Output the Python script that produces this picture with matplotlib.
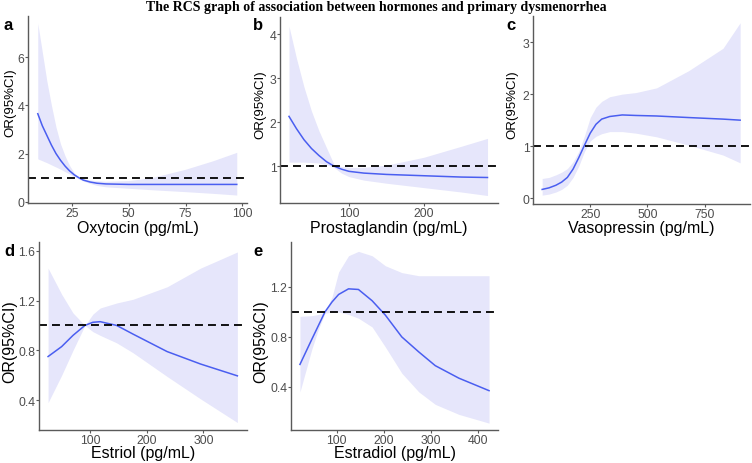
import matplotlib
matplotlib.use("Agg")
import matplotlib.pyplot as plt

plt.rcParams["font.family"] = ["Liberation Sans", "DejaVu Sans"]

TITLE = "The RCS graph of association between hormones and primary dysmenorrhea"

# a: oxytocin
oxy_x = [10, 12, 14, 16, 18, 20, 22, 24, 26, 28, 30, 33, 36, 40, 50, 60, 75, 87, 97.5]
oxy_or = [3.65, 3.15, 2.75, 2.35, 2.0, 1.72, 1.48, 1.28, 1.12, 1.0, 0.9, 0.82, 0.77, 0.74,
          0.72, 0.72, 0.72, 0.72, 0.72]
oxy_hi = [7.4, 6.2, 5.0, 4.0, 3.1, 2.4, 1.9, 1.5, 1.2, 1.03, 0.95, 0.9, 0.87, 0.85,
          0.88, 1.0, 1.35, 1.7, 2.05]
oxy_lo = [1.78, 1.7, 1.62, 1.53, 1.44, 1.35, 1.25, 1.15, 1.04, 0.95, 0.86, 0.76, 0.68, 0.62,
          0.56, 0.5, 0.42, 0.35, 0.28]

# b: prostaglandin
pg_x = [20, 30, 40, 50, 60, 70, 80, 90, 100, 120, 150, 200, 250, 285]
pg_or = [2.13, 1.85, 1.6, 1.4, 1.24, 1.1, 1.0, 0.93, 0.88, 0.84, 0.81, 0.78, 0.75, 0.74]
pg_hi = [4.18, 3.45, 2.8, 2.25, 1.8, 1.42, 1.04, 0.99, 0.97, 0.97, 1.02, 1.2, 1.45, 1.63]
pg_lo = [1.09, 1.09, 1.09, 1.08, 1.07, 1.03, 0.97, 0.84, 0.76, 0.68, 0.61, 0.51, 0.41, 0.33]

# c: vasopressin
avp_x = [40, 70, 100, 125, 150, 175, 200, 225, 250, 275, 300, 335, 390, 450, 540, 680, 830, 905]
avp_or = [0.17, 0.2, 0.25, 0.31, 0.40, 0.56, 0.78, 1.02, 1.25, 1.42, 1.52, 1.57, 1.6, 1.59,
          1.58, 1.55, 1.52, 1.5]
avp_hi = [0.38, 0.4, 0.45, 0.5, 0.57, 0.7, 0.9, 1.2, 1.55, 1.75, 1.86, 1.95, 2.0, 2.03,
          2.12, 2.45, 2.88, 3.37]
avp_lo = [0.06, 0.08, 0.12, 0.17, 0.25, 0.4, 0.62, 0.9, 1.1, 1.19, 1.24, 1.28, 1.28, 1.25,
          1.18, 1.02, 0.83, 0.68]

# d: estriol
e3_x = [26, 50, 70, 91, 105, 118, 147, 176, 236, 295, 360]
e3_or = [0.75, 0.83, 0.92, 1.0, 1.025, 1.03, 1.0, 0.93, 0.79, 0.69, 0.595]
e3_hi = [1.46, 1.25, 1.1, 1.0, 1.09, 1.14, 1.18, 1.21, 1.31, 1.46, 1.59]
e3_lo = [0.38, 0.6, 0.8, 1.0, 0.95, 0.92, 0.86, 0.78, 0.59, 0.41, 0.22]

# e: estradiol
e2_x = [22, 47, 61, 75, 90, 104, 125, 146, 175, 203, 238, 274, 309, 359, 423]
e2_or = [0.58, 0.78, 0.89, 1.0, 1.08, 1.14, 1.185, 1.18, 1.09, 0.975, 0.8, 0.68, 0.57, 0.47, 0.37]
e2_hi = [0.965, 0.97, 0.98, 1.0, 1.12, 1.32, 1.45, 1.485, 1.45, 1.37, 1.315, 1.29, 1.29, 1.29, 1.29]
e2_lo = [0.36, 0.7, 0.86, 0.99, 1.0, 1.0, 0.98, 0.95, 0.88, 0.72, 0.51, 0.36, 0.26, 0.18, 0.11]

W, H = 752, 464
LINE = "#4a5ef0"
BAND = "#e6e6fb"
AXC = "#5a5a5a"
TXT = "#4d4d4d"


def fx(px):
    return px / W


def fy(py):
    return 1 - py / H


def panel(fig, box, tag, tag_xy, ylab_xy, xlab_y, yfs,
          x, fit, lo, hi, xlabel, xticks, xlim, yticks, ylim):
    l, r, t, b = box
    ax = fig.add_axes([fx(l), fy(b), (r - l) / W, (b - t) / H])
    ax.fill_between(x, lo, hi, color=BAND, lw=0)
    ax.plot(x, fit, color=LINE, lw=1.1)
    ax.axhline(1, color="black", lw=1.3, linestyle=(0, (4.4, 2.8)))
    ax.set_xlim(xlim)
    ax.set_ylim(ylim)
    ax.set_xticks(xticks)
    ax.set_yticks(yticks)
    for s in ("top", "right"):
        ax.spines[s].set_visible(False)
    for s in ("left", "bottom"):
        ax.spines[s].set_color(AXC)
        ax.spines[s].set_linewidth(1.0)
    ax.tick_params(colors=AXC, labelcolor=TXT, labelsize=8.8, length=2, width=0.8, pad=0.6)
    fig.text(fx((l + r) / 2), fy(xlab_y), xlabel, fontsize=11.5, ha="center", va="center")
    fig.text(fx(ylab_xy[0]), fy(ylab_xy[1]), "OR(95%CI)", fontsize=yfs, rotation=90,
             ha="center", va="center")
    fig.text(fx(tag_xy[0]), fy(tag_xy[1]), tag, fontsize=12, fontweight="bold",
             ha="center", va="center")
    return ax


fig = plt.figure(figsize=(W / 100, H / 100), dpi=100)
fig.text(0.5, fy(8), TITLE, ha="center", va="center", fontsize=10,
         fontweight="bold", family=["Liberation Serif", "DejaVu Serif"])

panel(fig, (28, 247, 17, 204), "a", (8, 25), (10, 103), 228, 9.5,
      oxy_x, oxy_or, oxy_lo, oxy_hi, "Oxytocin (pg/mL)",
      [25, 50, 75, 100], (5.7, 102), [0, 2, 4, 6], (-0.05, 7.7))
panel(fig, (280, 498, 18, 204), "b", (258, 25), (260, 105), 228, 9.5,
      pg_x, pg_or, pg_lo, pg_hi, "Prostaglandin (pg/mL)",
      [100, 200], (8, 299), [1, 2, 3, 4], (0.16, 4.39))
panel(fig, (533, 750, 17, 205), "c", (511, 25), (512, 105), 229, 9.5,
      avp_x, avp_or, avp_lo, avp_hi, "Vasopressin (pg/mL)",
      [250, 500, 750], (0, 948), [0, 1, 2, 3], (-0.11, 3.5))
panel(fig, (39, 247, 243, 431), "d", (9, 252), (10, 342), 454, 11.5,
      e3_x, e3_or, e3_lo, e3_hi, "Estriol (pg/mL)",
      [100, 200, 300], (10, 377), [0.4, 0.8, 1.2, 1.6], (0.16, 1.67))
panel(fig, (291, 498, 243, 431), "e", (258, 252), (261, 342), 454, 11.5,
      e2_x, e2_or, e2_lo, e2_hi, "Estradiol (pg/mL)",
      [100, 200, 300, 400], (3, 442), [0.4, 0.8, 1.2], (0.055, 1.56))

fig.savefig("out.png", dpi=100)
